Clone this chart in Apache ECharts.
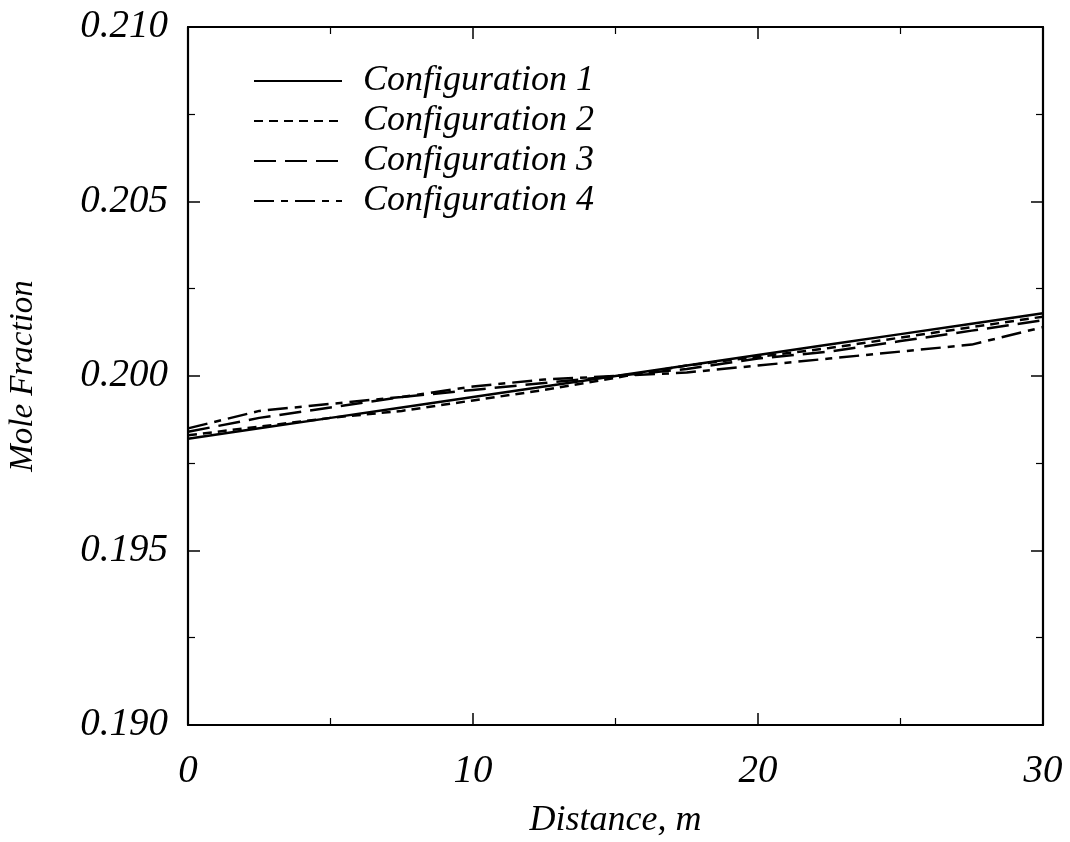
<!DOCTYPE html>
<html>
<head>
<meta charset="utf-8">
<script src="https://cdn.jsdelivr.net/npm/echarts@6/dist/echarts.min.js"></script>
<style>
  html, body { margin: 0; padding: 0; background: #fff; }
  #chart { width: 1070px; height: 842px; }
</style>
</head>
<body>
<div id="chart"></div>
<script>
// Distance along the run, m
const distance = [0, 2.5, 5, 7.5, 10, 12.5, 15, 17.5, 20, 22.5, 25, 27.5, 30];

// Mole fraction for each configuration
const config1 = [0.1982, 0.1985, 0.1988, 0.1991, 0.1994, 0.1997, 0.2000, 0.2003, 0.2006, 0.2009, 0.2012, 0.2015, 0.2018];
const config2 = [0.1983, 0.19855, 0.1988, 0.1990, 0.1993, 0.1996, 0.19995, 0.2003, 0.20055, 0.2008, 0.2011, 0.2014, 0.2017];
const config3 = [0.1984, 0.1988, 0.1991, 0.1994, 0.1996, 0.1998, 0.2000, 0.2002, 0.2005, 0.2007, 0.2010, 0.2013, 0.2016];
const config4 = [0.1985, 0.1990, 0.1992, 0.1994, 0.1997, 0.1999, 0.2000, 0.2001, 0.2003, 0.2005, 0.2007, 0.2009, 0.2014];

const seriesNames = ['Configuration 1', 'Configuration 2', 'Configuration 3', 'Configuration 4'];
const seriesValues = [config1, config2, config3, config4];
const dashStyles = ['solid', [9, 6], [22, 9], [20, 7, 7, 7]];

const FONT = "'Liberation Serif', 'DejaVu Serif', serif";
const baseText = { fontFamily: FONT, fontStyle: 'italic', color: '#000' };
const tickText = { ...baseText, fontSize: 39 };

const chart = echarts.init(document.getElementById('chart'), null, { renderer: 'canvas' });

function xAx(pos, showLabels) {
  return {
    type: 'value', position: pos, min: 0, max: 30, interval: 10,
    name: showLabels ? 'Distance, m' : '',
    nameLocation: 'middle', nameGap: 78,
    nameTextStyle: { ...baseText, fontSize: 36 },
    axisLine: { show: true, onZero: false, lineStyle: { color: '#000', width: 2.2 } },
    axisTick: { show: true, inside: true, length: 12, lineStyle: { color: '#000', width: 1.5 } },
    minorTick: { show: true, splitNumber: 2, length: 7, lineStyle: { color: '#000', width: 1.2 } },
    axisLabel: { show: showLabels, margin: 27, ...tickText },
    splitLine: { show: false }
  };
}
function yAx(pos, showLabels) {
  return {
    type: 'value', position: pos, min: 0.190, max: 0.210, interval: 0.005,
    name: showLabels ? 'Mole Fraction' : '',
    nameLocation: 'middle', nameGap: 148,
    nameTextStyle: { ...baseText, fontSize: 33 },
    axisLine: { show: true, onZero: false, lineStyle: { color: '#000', width: 2.2 } },
    axisTick: { show: true, inside: true, length: 12, lineStyle: { color: '#000', width: 1.5 } },
    minorTick: { show: true, splitNumber: 2, length: 7, lineStyle: { color: '#000', width: 1.2 } },
    axisLabel: { show: showLabels, margin: 20, formatter: v => v.toFixed(3), ...tickText },
    splitLine: { show: false }
  };
}

chart.setOption({
  animation: false,
  backgroundColor: '#fff',
  grid: { left: 188, right: 27, top: 27, bottom: 117, outerBoundsMode: 'none', containLabel: false },
  xAxis: [xAx('bottom', true), xAx('top', false)],
  yAxis: [yAx('left', true), yAx('right', false)],
  legend: {
    orient: 'vertical', left: 248, top: 56,
    itemWidth: 88, itemHeight: 14, itemGap: 0,
    data: seriesNames,
    itemStyle: { opacity: 0 },
    textStyle: { ...baseText, fontSize: 36, lineHeight: 40, padding: [0, 0, 0, 16] }
  },
  series: seriesNames.map((name, i) => ({
    name, type: 'line', xAxisIndex: 0, yAxisIndex: 0,
    data: distance.map((d, k) => [d, seriesValues[i][k]]),
    symbol: 'none',
    lineStyle: { color: '#000', width: 2.5, type: dashStyles[i] },
    itemStyle: { color: '#000' }
  }))
});
</script>
</body>
</html>
